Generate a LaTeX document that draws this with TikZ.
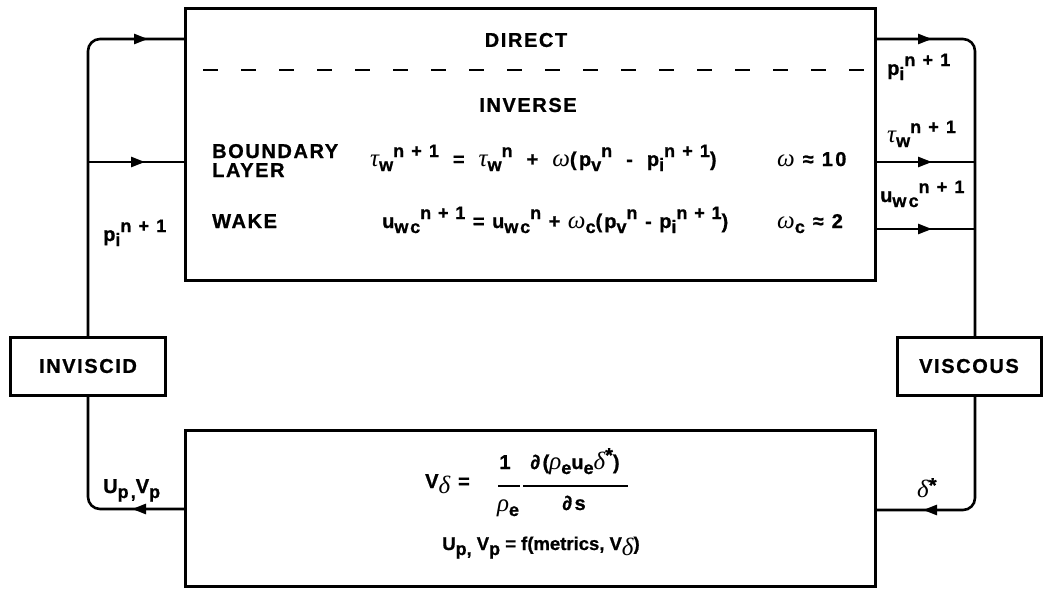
\documentclass[tikz,border=0pt]{standalone}
\usepackage{fontspec}
\setmainfont{Liberation Sans}[LetterSpace=8, BoldFeatures={FakeBold=0.9}]
\newfontfamily\eqf{Liberation Sans}[LetterSpace=12, BoldFeatures={FakeBold=0.9}]
\newfontfamily\eqn{Liberation Sans}[LetterSpace=10, BoldFeatures={FakeBold=0.9}]
\newfontfamily\btf{Liberation Sans}[LetterSpace=0, BoldFeatures={FakeBold=0.9}]
\newfontfamily\gkfont{Liberation Serif}
\usetikzlibrary{arrows.meta,decorations.markings}
\newcommand\gr[1]{{\gkfont\itshape\mdseries\fontsize{25}{25}\selectfont #1}}
\newcommand\Sb[1]{\raisebox{-5pt}{\fontsize{18}{18}\selectfont #1}}
\newcommand\Sp[1]{\raisebox{9pt}{\fontsize{18}{18}\selectfont #1}}
\newcommand\op[1]{\hspace{14pt}#1\hspace{14pt}}
\tikzset{
  box/.style={draw, line width=3pt, inner sep=0pt, outer sep=0pt},
  conn/.style={line width=2.6pt, rounded corners=12pt},
  arr at/.style={postaction={decorate}, decoration={markings,
     mark=at position #1 with {\arrow{Triangle[length=14pt,width=10pt]}}}},
  lbl/.style={inner sep=0pt, anchor=base west},
  eqs/.style={lbl, font=\eqf\fontsize{20}{22}\selectfont\bfseries},
  eqsn/.style={lbl, font=\eqn\fontsize{20}{22}\selectfont\bfseries},
  fr/.style={inner sep=0pt, anchor=base, font=\eqf\fontsize{20}{22}\selectfont\bfseries},
  barline/.style={line width=1.8pt},
}
\begin{document}
\begin{tikzpicture}[x=1pt,y=-1pt,font=\fontsize{20}{22}\selectfont\bfseries]
\useasboundingbox (0,0) rectangle (1043,589);
% boxes
\node[box, anchor=north west, minimum width=690pt, minimum height=272pt] (top) at (185,8) {};
\node[box, anchor=north west, minimum width=690pt, minimum height=156pt] (bot) at (185,430) {};
\node[box, minimum width=155pt, minimum height=58pt] (inv) at (88,366) {INVISCID};
\node[box, minimum width=144pt, minimum height=58pt] (visc) at (969,366) {VISCOUS};
% ports
\coordinate (pin1) at (185,39);
\coordinate (pin2) at (185,162);
\coordinate (lj) at (88,162);
\coordinate (pout1) at (875,39);
\coordinate (pout2) at (875,162);
\coordinate (pout3) at (875,229);
\coordinate (rj2) at (975,162);
\coordinate (rj3) at (975,229);
\coordinate (bin1) at (875,510);
\coordinate (bout) at (185,509);
% dashed divider
\coordinate (dl) at (203,70);
\coordinate (dr) at (872,70);
\draw[line width=2.6pt, dash pattern=on 15pt off 23pt] (dl) -- (dr);
% connectors
\draw[conn, arr at=-37pt] (inv.north) |- (pin1);
\draw[conn, arr at=-40pt] (lj) -- (pin2);
\draw[conn, arr at=57pt] (pout1) -| (visc.north -| rj2);
\draw[conn, arr at=57pt] (pout2) -- (rj2);
\draw[conn, arr at=57pt] (pout3) -- (rj3);
\draw[conn, arr at=-48pt] (visc.south -| rj2) |- (bin1);
\draw[conn, arr at=53pt] (bout) -| (inv.south);
% top box texts
\node[inner sep=0pt] (direct) at (526,40) {DIRECT};
\node[inner sep=0pt] (inverse) at (528,105) {INVERSE};
\node[lbl] (bnd) at (212,158) {BOUNDARY};
\node[lbl] (lay) at (212,177) {LAYER};
\node[lbl] (wake) at (212,228) {WAKE};
\node[eqs] (eq1) at (370,166) {\gr{τ}\Sb{w}\Sp{n + 1}\op{=}\gr{τ}\Sb{w}\Sp{n}\op{+}\gr{ω}(p\Sb{v}\Sp{n}\op{-}p\Sb{i}\Sp{n + 1})};
\node[eqs] (om1) at (777,166) {\gr{ω} ≈ 10};
\node[eqsn] (eq2) at (382,228) {u\Sb{wc}\Sp{n + 1} = u\Sb{wc}\Sp{n} + \gr{ω}\Sb{c}(p\Sb{v}\Sp{n} - p\Sb{i}\Sp{n + 1})};
\node[eqs] (om2) at (777,228) {\gr{ω}\Sb{c} ≈ 2};
% connector labels
\node[eqs] (lp) at (887,75) {p\Sb{i}\Sp{n + 1}};
\node[eqs] (lt) at (887,142) {\gr{τ}\Sb{w}\Sp{n + 1}};
\node[eqs] (lu) at (880,202) {u\Sb{wc}\Sp{n + 1}};
\node[eqs] (lpl) at (103,241) {p\Sb{i}\Sp{n + 1}};
\node[eqs] (lup) at (103,493) {U\Sb{p,}V\Sb{p}};
\node[eqs] (lds) at (917,497) {\gr{δ}\raisebox{5pt}{*}};
% bottom box texts
\node[eqs] (vd) at (425,488) {V\Sb{\gr{δ}} =};
\node[fr] (n1) at (505,469) {1};
\node[fr] (d1) at (508,511) {\gr{ρ}\Sb{e}};
\node[fr] (n2) at (575,469) {∂(\gr{ρ}\Sb{e}u\Sb{e}\gr{δ}\raisebox{7pt}{*})};
\node[fr] (d2) at (574,510) {∂s};
\coordinate (b1l) at (498,486);
\coordinate (b1r) at (520,486);
\coordinate (b2l) at (523,486);
\coordinate (b2r) at (628,486);
\draw[barline] (b1l) -- (b1r);
\draw[barline] (b2l) -- (b2r);
\node[inner sep=0pt, anchor=base, font=\btf\fontsize{18.5}{21}\selectfont\bfseries] (upeq) at (541,550) {U\Sb{p,} V\Sb{p} = f(metrics, V\Sb{\gr{δ}})};
\end{tikzpicture}
\end{document}
